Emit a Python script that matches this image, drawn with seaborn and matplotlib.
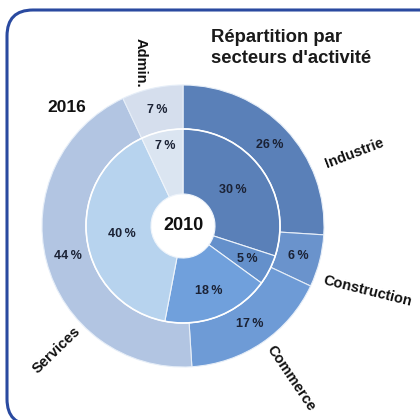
import numpy as np
import matplotlib
matplotlib.use("Agg")
import matplotlib.pyplot as plt
import seaborn as sns
from matplotlib.patches import FancyBboxPatch, Circle

# ---- data ----
categories = ["Industrie", "Construction", "Commerce", "Services", "Admin."]
values_2016 = [26, 6, 17, 44, 7]
values_2010 = [30, 5, 18, 40, 7]
title_text = "Répartition par\nsecteurs d'activité"
outer_year = "2016"
inner_year = "2010"

# ---- styles ----
outer_colors = ["#5a80b8", "#6a93cc", "#6e9bd6", "#b2c5e2", "#d5deed"]
inner_colors = ["#5a80b8", "#6490cb", "#70a0dc", "#b7d3ee", "#dbe5f1"]
inner_label_r = [0.64, 0.74, 0.72, 0.64, 0.85]
cat_label_pos = [(354, 153, 21), (367, 291, -14), (291, 378, -56), (57, 350, 44), (141, 63, -90)]

sns.set_theme(style="white")
plt.rcParams['font.family'] = ['Liberation Sans', 'DejaVu Sans']

fig = plt.figure(figsize=(4.2, 4.2), dpi=100)
ax = fig.add_axes([0, 0, 1, 1])

H = 420
cx, cy = 183, H - 226
R_out, R_mid, R_in = 141, 97, 32

# outer ring
ax.pie(values_2016, radius=R_out, center=(cx, cy), startangle=90, counterclock=False,
       colors=outer_colors, wedgeprops=dict(width=R_out - R_mid, edgecolor="#e6eef8", linewidth=0.8),
       frame=True)
# inner ring
ax.pie(values_2010, radius=R_mid, center=(cx, cy), startangle=90, counterclock=False,
       colors=inner_colors, wedgeprops=dict(width=R_mid - R_in, edgecolor="#eef4fb", linewidth=0.8),
       frame=True)
ax.add_patch(Circle((cx, cy), R_mid, fill=False, edgecolor="white", linewidth=1.2))
ax.set_xlim(0, 420)
ax.set_ylim(0, 420)
ax.set_aspect('equal')
ax.axis('off')

txt_color = "#1b2235"

def place(vals, rfun):
    cum = np.cumsum([0] + list(vals))
    for i, v in enumerate(vals):
        mid = (cum[i] + cum[i + 1]) / 2 / 100 * 2 * np.pi
        r = rfun(i)
        x = cx + r * np.sin(mid)
        y = cy + r * np.cos(mid)
        ax.text(x, y, f"{v}\u2009%", ha='center', va='center', fontsize=9,
                fontweight='bold', color=txt_color)

place(values_2016, lambda i: 119)
place(values_2010, lambda i: inner_label_r[i] * R_mid)

for cat, (px, py, rot) in zip(categories, cat_label_pos):
    ax.text(px, H - py, cat, ha='center', va='center', rotation=rot,
            rotation_mode='anchor', fontsize=10.5, fontweight='bold', color="#111111")

ax.text(cx, cy, inner_year, ha='center', va='center', fontsize=13,
        fontweight='bold', color="#111111")
ax.text(67, H - 108, outer_year, ha='center', va='center', fontsize=12.5,
        fontweight='bold', color="#111111")
ax.text(211, H - 48, title_text, ha='left', va='center', fontsize=13.3,
        fontweight='bold', color="#1a1a1a", linespacing=1.25)

frame = FancyBboxPatch((7, -5), 440, H - 10 + 5,
                       boxstyle="round,pad=0,rounding_size=26",
                       fill=False, edgecolor="#2a4aa0", linewidth=2.2)
ax.add_patch(frame)

fig.savefig("out.png", dpi=100, facecolor="white")
